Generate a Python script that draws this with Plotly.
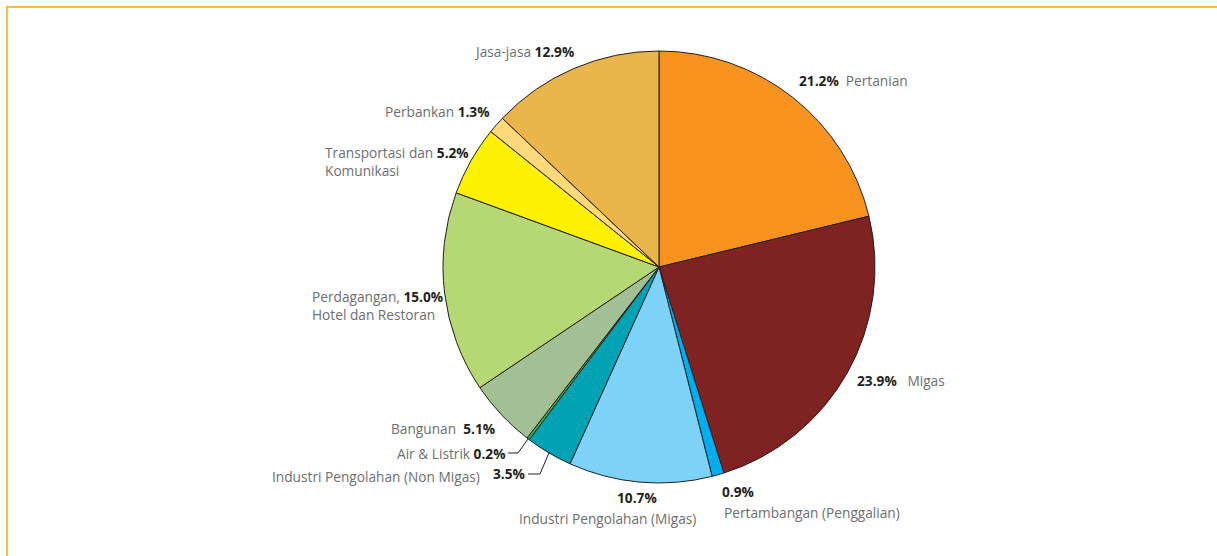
import math
import plotly.graph_objects as go

W, H = 1217, 556

# ---- data ----
sectors = ["Pertanian", "Migas", "Pertambangan (Penggalian)", "Industri Pengolahan (Migas)",
           "Industri Pengolahan (Non Migas)", "Air & Listrik", "Bangunan",
           "Perdagangan, Hotel dan Restoran", "Transportasi dan Komunikasi", "Perbankan", "Jasa-jasa"]
shares = [21.2, 23.9, 0.9, 10.7, 3.5, 0.2, 5.1, 15.0, 5.2, 1.3, 12.9]
colors = ["#F7931E", "#7F2222", "#00AEEF", "#7DD3F7", "#00A3B4", "#39B54A",
          "#A3BF94", "#B5D774", "#FFF200", "#FFD97A", "#EAB54B"]

GRAY = "#6D6E71"
DARK = "#231F20"
FONT = "Open Sans"
FS = 13.7

# pie geometry (pixels)
CX, CY, R = 659, 267, 216


def px(x):
    return x / W


def py(y):
    return 1 - y / H


def num(i):
    return f"<span style='color:{DARK}'><b>{shares[i]:.1f}%</b></span>"


fig = go.Figure(go.Pie(
    labels=sectors, values=shares, sort=False, direction="clockwise", rotation=0,
    marker=dict(colors=colors, line=dict(color=DARK, width=1)),
    textinfo="none", hoverinfo="label+percent",
    domain=dict(x=[px(CX - R), px(CX + R)], y=[py(CY + R), py(CY - R)]),
    showlegend=False,
))

anns = []


def ann(x, y, text, xanchor="right", align="right"):
    anns.append(dict(x=px(x), y=py(y), xref="paper", yref="paper", text=text,
                     showarrow=False, xanchor=xanchor, yanchor="middle", align=align,
                     font=dict(family=FONT, size=FS, color=GRAY)))


ann(797, 80, f"{num(0)}  {sectors[0]}", "left", "left")
ann(855, 380, f"{num(1)}   {sectors[1]}", "left", "left")
ann(720, 491, num(2), "left", "left")
ann(722, 512, sectors[2], "left", "left")
ann(637, 497, num(3), "center", "center")
ann(607, 518, sectors[3], "center", "center")
ann(482, 476, sectors[4], "right", "right")
ann(527, 473, num(4), "right", "right")
ann(507, 453, f"{sectors[5]} {num(5)}", "right", "right")
ann(497, 428, f"{sectors[6]}  {num(6)}", "right", "right")
ann(310, 305, f"Perdagangan, {num(7)}<br>Hotel dan Restoran", "left", "left")
ann(323, 162, f"Transportasi dan {num(8)}<br>Komunikasi", "left", "left")
ann(492, 112, f"{sectors[9]} {num(9)}", "right", "right")
ann(576, 52, f"{sectors[10]} {num(10)}", "right", "right")


def edge_point(idx):
    start = sum(shares[:idx])
    mid = (start + shares[idx] / 2) / sum(shares) * 2 * math.pi
    return CX + R * math.sin(mid), CY - R * math.cos(mid)


shapes = []


def leader(idx, x0, y0, xk):
    ex, ey = edge_point(idx)
    pts = [(x0, y0), (xk, y0), (ex, ey)]
    path = "M " + " L ".join(f"{px(a)},{py(b)}" for a, b in pts)
    shapes.append(dict(type="path", xref="paper", yref="paper", path=path,
                       line=dict(color=DARK, width=1)))


leader(5, 508, 453, 518)
leader(4, 528, 474, 540)

# frame
shapes.append(dict(type="rect", xref="paper", yref="paper",
                   x0=px(7), y0=py(7), x1=px(W + 20), y1=py(H + 20),
                   line=dict(color="#F9BA48", width=2), fillcolor="rgba(0,0,0,0)"))

fig.update_layout(
    width=W, height=H, margin=dict(l=0, r=0, t=0, b=0),
    paper_bgcolor="white", plot_bgcolor="white",
    annotations=anns, shapes=shapes,
)

fig.write_html("out.html", config={"displayModeBar": False},
               post_script="document.body.style.margin='0';document.body.style.overflow='hidden';")
